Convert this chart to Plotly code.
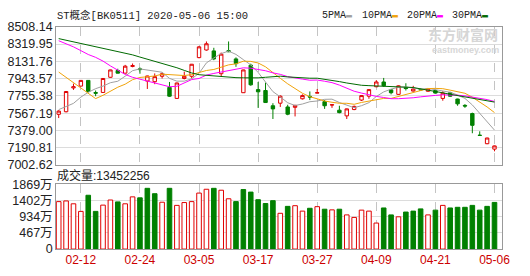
import plotly.graph_objects as go

# ---------------- data ----------------
dates = ["02-07", "02-10", "02-11", "02-12", "02-13", "02-14", "02-17", "02-18", "02-19", "02-20",
         "02-21", "02-24", "02-25", "02-26", "02-27", "02-28", "03-02", "03-03", "03-04", "03-05",
         "03-06", "03-09", "03-10", "03-11", "03-12", "03-13", "03-16", "03-17", "03-18", "03-19",
         "03-20", "03-23", "03-24", "03-25", "03-26", "03-27", "03-30", "03-31", "04-01", "04-02",
         "04-03", "04-07", "04-08", "04-09", "04-10", "04-13", "04-14", "04-15", "04-16", "04-17",
         "04-20", "04-21", "04-22", "04-23", "04-24", "04-27", "04-28", "04-29", "04-30", "05-06"]

opens = [7555, 7583, 7842, 7862, 7924, 7792, 7793, 7958, 8031, 8003,
         8076, 8050, 7917, 7910, 7969, 7848, 7728, 7945, 7969, 8172,
         8255, 8245, 7997, 8248, 8158, 7790, 8090, 7824, 7814, 7648,
         7676, 7635, 7631, 7724, 7750, 7786, 7693, 7656, 7600, 7538,
         7607, 7710, 7752, 7855, 7907, 7821, 7772, 7848, 7808, 7826,
         7806, 7814, 7728, 7790, 7721, 7652, 7563, 7328, 7235, 7176]
highs = [7600, 7809, 7889, 7927, 7927, 7814, 7948, 8041, 8051, 8093,
         8108, 8065, 7975, 8000, 8010, 7907, 7900, 8020, 8103, 8299,
         8348, 8279, 8227, 8348, 8175, 8041, 8106, 7907, 7900, 7676,
         7762, 7659, 7659, 7772, 7804, 7831, 7710, 7659, 7648, 7618,
         7650, 7765, 7830, 7927, 7951, 7831, 7870, 7893, 7865, 7838,
         7838, 7822, 7806, 7800, 7725, 7666, 7573, 7370, 7300, 7215]
lows = [7514, 7576, 7821, 7860, 7793, 7752, 7790, 7953, 8001, 8000,
        8067, 7997, 7831, 7883, 7945, 7745, 7725, 7935, 7945, 8165,
        8248, 8144, 7969, 8232, 8072, 7787, 7866, 7625, 7680, 7504,
        7635, 7545, 7532, 7716, 7710, 7785, 7614, 7625, 7566, 7504,
        7600, 7700, 7724, 7850, 7855, 7772, 7768, 7814, 7803, 7810,
        7800, 7780, 7703, 7745, 7648, 7625, 7349, 7322, 7230, 7152]
closes = [7590, 7803, 7855, 7924, 7803, 7785, 7945, 8038, 8003, 8079,
          8085, 8042, 7972, 7965, 7997, 7752, 7896, 7969, 8100, 8289,
          8323, 8158, 8210, 8237, 8106, 8038, 7876, 7800, 7683, 7614,
          7752, 7556, 7652, 7759, 7743, 7790, 7648, 7659, 7573, 7614,
          7641, 7759, 7824, 7907, 7866, 7790, 7865, 7835, 7830, 7821,
          7831, 7786, 7786, 7752, 7669, 7645, 7435, 7325, 7297, 7211]

ma5 = [7606, 7643, 7674, 7742, 7795, 7834, 7862, 7899, 7915, 7970,
       8030, 8049, 8037, 8030, 8013, 7946, 7916, 7916, 7942, 8001,
       8115, 8168, 8216, 8243, 8207, 8150, 8093, 8011, 7901, 7802,
       7745, 7681, 7651, 7667, 7692, 7700, 7718, 7720, 7683, 7657,
       7627, 7649, 7682, 7749, 7799, 7829, 7850, 7853, 7838, 7829,
       7837, 7821, 7811, 7795, 7765, 7728, 7657, 7565, 7474, 7383]
ma10 = [8015, 7958, 7896, 7845, 7788, 7726, 7762, 7809, 7850, 7883,
        7932, 7956, 7967, 7972, 7992, 7989, 7984, 7977, 7987, 8008,
        8032, 8043, 8067, 8093, 8104, 8133, 8131, 8114, 8072, 8005,
        7947, 7887, 7831, 7784, 7747, 7723, 7700, 7686, 7675, 7675,
        7664, 7684, 7701, 7716, 7728, 7728, 7750, 7767, 7795, 7816,
        7835, 7837, 7834, 7818, 7798, 7784, 7741, 7690, 7635, 7574]
ma20 = [8356, 8325, 8289, 8248, 8206, 8175, 8134, 8082, 8031, 7989,
        7958, 7938, 7917, 7896, 7876, 7855, 7860, 7896, 7933, 7945,
        7982, 8000, 8017, 8033, 8048, 8061, 8057, 8045, 8029, 8006,
        7990, 7965, 7949, 7938, 7926, 7928, 7915, 7900, 7873, 7840,
        7806, 7786, 7766, 7750, 7738, 7725, 7725, 7727, 7735, 7745,
        7749, 7761, 7767, 7767, 7763, 7756, 7745, 7729, 7715, 7695]
ma30 = [8379, 8362, 8345, 8326, 8309, 8290, 8273, 8255, 8237, 8220,
        8202, 8178, 8156, 8133, 8109, 8082, 8062, 8033, 8005, 7986,
        7978, 7971, 7963, 7954, 7954, 7952, 7951, 7952, 7958, 7965,
        7970, 7962, 7955, 7950, 7948, 7948, 7938, 7926, 7911, 7896,
        7881, 7871, 7867, 7864, 7860, 7861, 7860, 7856, 7847, 7832,
        7815, 7803, 7789, 7773, 7758, 7745, 7730, 7714, 7701, 7688]

volume_wan = [1368, 1387, 1305, 1086, 1551, 1086, 1267, 1414, 1360, 1305,
              1505, 1477, 1751, 1596, 1350, 1751, 1259, 1341, 1368, 1614,
              1724, 1751, 1696, 1450, 1368, 1715, 1642, 1423, 1313, 1395,
              1031, 1231, 1250, 1094, 1176, 1222, 1149, 1130, 1149, 985,
              912, 1122, 1094, 750, 1185, 985, 930, 1067, 1094, 1158,
              985, 1122, 1259, 1185, 1204, 1204, 1259, 1122, 1231, 1345]
# 1 = up day (red hollow bar), 0 = down day (green solid bar)
vol_up = [1, 1, 1, 1, 0, 0, 1, 1, 0, 1,
          1, 0, 0, 0, 1, 0, 1, 1, 1, 1,
          1, 0, 1, 1, 0, 0, 0, 0, 0, 0,
          1, 0, 1, 1, 0, 1, 0, 1, 0, 1,
          1, 1, 1, 1, 0, 0, 1, 0, 0, 0,
          1, 0, 1, 0, 0, 0, 0, 0, 0, 0]

price_ticks = [7002.62, 7190.81, 7379.00, 7567.19, 7755.38, 7943.57, 8131.76, 8319.95, 8508.14]
vol_ticks = [0, 467, 934, 1402, 1869]
vol_tick_text = ["0", "467万", "934万", "1402万", "1869万"]
date_ticks = ["02-12", "02-24", "03-05", "03-17", "03-27", "04-09", "04-21", "05-06"]
title_text = "ST概念[BK0511] 2020-05-06 15:00"
vol_title = "成交量:13452256"
legend_items = [("5PMA", "#a0a0a0"), ("10PMA", "#f0a30a"), ("20PMA", "#ff00ff"), ("30PMA", "#006a00")]

# ---------------- figure ----------------
W, H = 530, 276
def fx(x): return x / W
def fy(y): return 1 - y / H

idx = list(range(len(dates)))
tick_idx = [dates.index(d) for d in date_ticks]
RED = "#e00000"
GREEN = "#008000"

fig = go.Figure()
fig.add_trace(go.Candlestick(
    x=idx, open=opens, high=highs, low=lows, close=closes,
    increasing=dict(line=dict(color=RED, width=1), fillcolor="white"),
    decreasing=dict(line=dict(color=GREEN, width=1), fillcolor=GREEN),
    whiskerwidth=0, xaxis="x", yaxis="y", showlegend=False, hoverinfo="skip"))

for vals, (name, col) in zip([ma5, ma10, ma20, ma30], legend_items):
    fig.add_trace(go.Scatter(x=idx, y=vals, mode="lines", line=dict(color=col, width=1),
                             xaxis="x", yaxis="y", showlegend=False, hoverinfo="skip"))

fig.add_trace(go.Bar(
    x=idx, y=volume_wan, width=0.62,
    marker=dict(color=["white" if u else GREEN for u in vol_up],
                line=dict(color=[RED if u else GREEN for u in vol_up], width=1)),
    xaxis="x2", yaxis="y2", showlegend=False, hoverinfo="skip"))

xr = [-0.347, 59.99]
xdom = [fx(57), fx(509.5)]
common_x = dict(range=xr, domain=xdom, tickvals=tick_idx, showgrid=True, gridcolor="#c4c4c4",
                griddash="dash", gridwidth=1, showline=True, linecolor="#999999", mirror=True,
                zeroline=False, ticks="", fixedrange=True)
fig.update_layout(
    width=W, height=H, margin=dict(l=0, r=0, t=0, b=0),
    paper_bgcolor="white", plot_bgcolor="white", boxgap=0.34,
    xaxis=dict(**common_x, showticklabels=False, rangeslider=dict(visible=False), anchor="y"),
    xaxis2=dict(**common_x, ticktext=date_ticks, showticklabels=True, anchor="y2",
                tickfont=dict(family="Liberation Sans, Arial", size=12, color="#cc0000")),
    yaxis=dict(domain=[fy(166.5), fy(20.8)], range=[price_ticks[0], price_ticks[-1]],
               tickvals=price_ticks, ticktext=[f"{v:.2f}" for v in price_ticks],
               showgrid=True, gridcolor="#dcdcdc", gridwidth=1, zeroline=False,
               showline=True, linecolor="#999999", mirror=True, ticks="", anchor="x",
               tickfont=dict(family="Liberation Sans, Arial", size=12.5, color="#222222")),
    yaxis2=dict(domain=[fy(255), fy(186.7)], range=[0, vol_ticks[-1]],
                tickvals=vol_ticks, ticktext=vol_tick_text,
                showgrid=True, gridcolor="#dcdcdc", gridwidth=1, zeroline=False,
                showline=True, linecolor="#999999", mirror=True, ticks="", anchor="x2",
                tickfont=dict(family="Liberation Sans, Noto Sans CJK SC", size=12.5, color="#222222")),
)

ann = []
ann.append(dict(x=fx(56), y=fy(8.5), xref="paper", yref="paper", xanchor="left", yanchor="middle",
                text=title_text, showarrow=False,
                font=dict(family="Liberation Mono, Noto Sans CJK SC", size=10.5, color="#222222")))
ann.append(dict(x=fx(56), y=fy(177), xref="paper", yref="paper", xanchor="left", yanchor="middle",
                text=vol_title, showarrow=False,
                font=dict(family="Liberation Sans, Noto Sans CJK SC", size=12, color="#222222")))
leg_x = [325, 366, 411, 457]
for (name, col), lx in zip(legend_items, leg_x):
    ann.append(dict(x=fx(lx), y=fy(8.5), xref="paper", yref="paper", xanchor="left", yanchor="middle",
                    text=f"{name}<span style='color:{col}'>▬</span>", showarrow=False,
                    font=dict(family="Liberation Mono", size=10, color="#222222")))
# faint site watermark
ann.append(dict(x=fx(508), y=fy(28), xref="paper", yref="paper", xanchor="right", yanchor="middle",
                text="<b>东方财富网</b>", showarrow=False,
                font=dict(family="Noto Sans CJK SC", size=14, color="#d6d6d6")))
ann.append(dict(x=fx(509), y=fy(45), xref="paper", yref="paper", xanchor="right", yanchor="middle",
                text="<b>eastmoney.com</b>", showarrow=False,
                font=dict(family="Liberation Sans", size=9, color="#d6d6d6")))
fig.update_layout(annotations=ann)

fig.write_html("out.html")
